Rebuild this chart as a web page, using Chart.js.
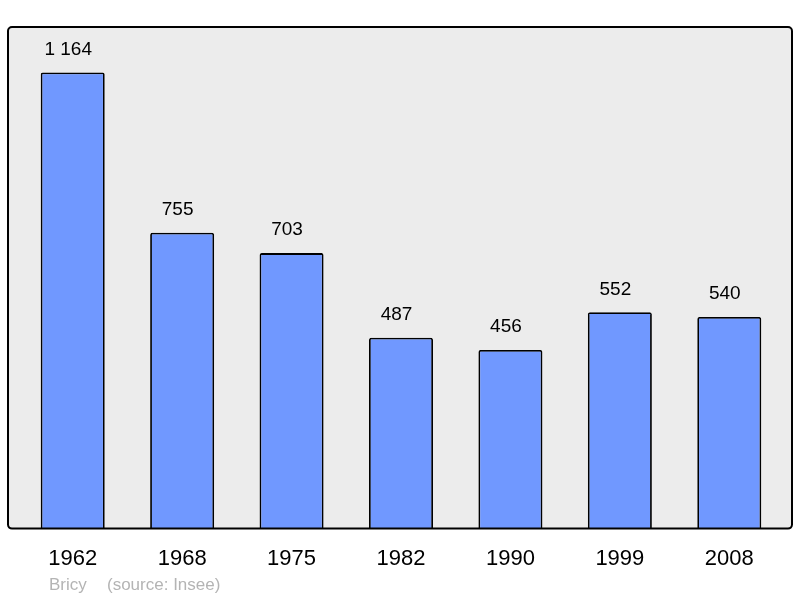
<!DOCTYPE html>
<html>
<head>
<meta charset="utf-8">
<script src="https://cdn.jsdelivr.net/npm/chart.js@4"></script>
<style>
  html, body { margin: 0; padding: 0; background: #fff; }
  #wrap { width: 800px; height: 598px; }
</style>
</head>
<body>
<div id="wrap"><canvas id="chart" width="800" height="598"></canvas></div>
<script>
// Population de Bricy par recensement
const annees = ["1962", "1968", "1975", "1982", "1990", "1999", "2008"];
const population = [1164, 755, 703, 487, 456, 552, 540];
const commune = "Bricy";
const source = "(source: Insee)";

// "1164" -> "1 164"
function fmtNombre(v) {
  return String(v).replace(/\B(?=(\d{3})+(?!\d))/g, " ");
}

// Cadre gris arrondi derrière les barres
const cadre = {
  id: "cadre",
  beforeDatasetsDraw(chart) {
    const { ctx, chartArea: a } = chart;
    const x0 = 8, x1 = 792, y0 = a.top, y1 = a.bottom;
    ctx.save();
    ctx.beginPath();
    ctx.roundRect(x0, y0, x1 - x0, y1 - y0, 4);
    ctx.fillStyle = "#ececec";
    ctx.fill();
    ctx.restore();
  },
  afterDatasetsDraw(chart) {
    const { ctx, chartArea: a } = chart;
    const x0 = 8, x1 = 792, y0 = a.top, y1 = a.bottom;
    ctx.save();
    ctx.beginPath();
    ctx.roundRect(x0, y0, x1 - x0, y1 - y0, 4);
    ctx.lineWidth = 2;
    ctx.strokeStyle = "#000";
    ctx.stroke();

    // valeurs au-dessus des barres (légèrement décalées à gauche, comme l'original)
    ctx.font = "19px 'Liberation Sans', Arial, sans-serif";
    ctx.fillStyle = "#000";
    ctx.textAlign = "center";
    ctx.textBaseline = "middle";
    chart.getDatasetMeta(0).data.forEach((bar, i) => {
      ctx.fillText(fmtNombre(population[i]), bar.x - 4.5, bar.y - 23);
    });

    // pied : commune + source
    ctx.font = "17px 'Liberation Sans', Arial, sans-serif";
    ctx.fillStyle = "#b4b4b4";
    ctx.textAlign = "left";
    ctx.fillText(commune, 49, 585);
    ctx.fillText(source, 107, 585);
    ctx.restore();
  },
};

new Chart(document.getElementById("chart"), {
  type: "bar",
  data: {
    labels: annees,
    datasets: [
      {
        data: population,
        backgroundColor: "#7098ff",
        borderColor: "#000",
        borderWidth: 1.8,
        borderSkipped: "bottom",
        borderRadius: 2,
        categoryPercentage: 1,
        barPercentage: 0.585,
      },
    ],
  },
  options: {
    responsive: false,
    animation: false,
    layout: { padding: { left: 18, right: 16, top: 27, bottom: 9 } },
    scales: {
      x: {
        grid: { display: false, drawTicks: false },
        border: { display: false },
        ticks: {
          padding: 17,
          color: "#000",
          font: { family: "'Liberation Sans', Arial, sans-serif", size: 22 },
        },
      },
      y: {
        display: false,
        min: 0,
        max: 1280,
      },
    },
    plugins: {
      legend: { display: false },
      tooltip: { enabled: false },
    },
  },
  plugins: [cadre],
});
</script>
</body>
</html>
